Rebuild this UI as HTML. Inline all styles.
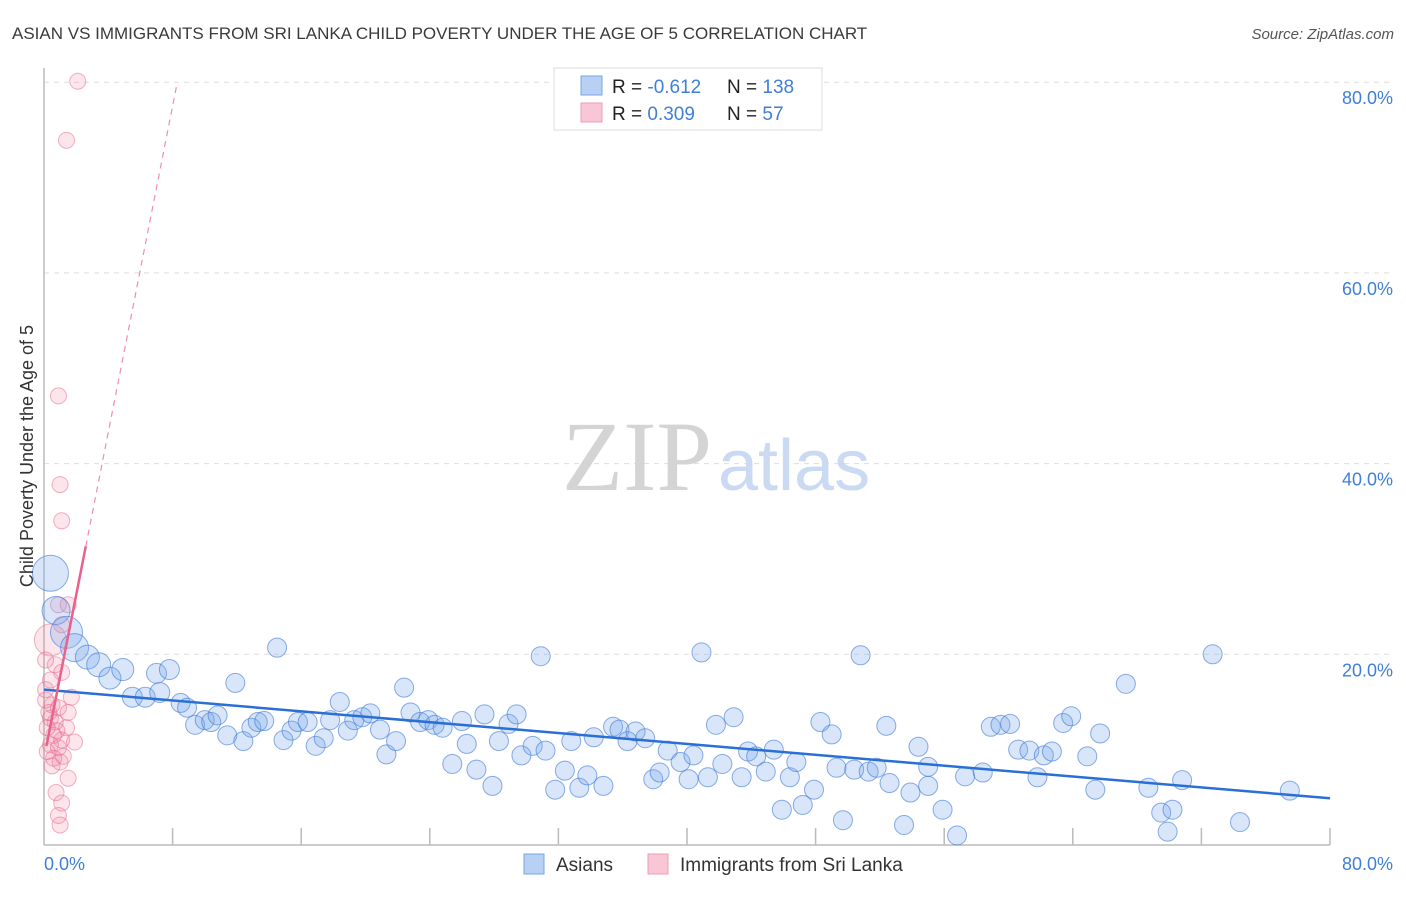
<!DOCTYPE html>
<html><head><meta charset="utf-8"><style>
body{margin:0;background:#fff;font-family:"Liberation Sans",sans-serif;}
</style></head><body>
<svg id="chart" width="1406" height="892" xmlns="http://www.w3.org/2000/svg" font-family="Liberation Sans, sans-serif">
<text x="12" y="39" font-size="17" fill="#3a3a3a">ASIAN VS IMMIGRANTS FROM SRI LANKA CHILD POVERTY UNDER THE AGE OF 5 CORRELATION CHART</text>
<text x="1394" y="39" font-size="15" fill="#555" text-anchor="end" font-style="italic">Source: ZipAtlas.com</text>
<g id="grid"></g>
<g>
<text x="712" y="490" font-size="100" fill="#d4d4d4" text-anchor="end" style="font-family:'Liberation Serif',serif">ZIP</text>
<text x="718" y="490" font-size="72" fill="#c9daf2">atlas</text>
</g>
<line x1="44" y1="845" x2="1330" y2="845" stroke="#bbb" stroke-width="1.5"/>
<line x1="44" y1="68" x2="44" y2="845" stroke="#bbb" stroke-width="1.5"/>
<g id="ticks"></g>
<g id="pink"></g>
<g id="blue"></g>
<g id="lines"></g>
<text transform="translate(33,456) rotate(-90)" font-size="18" fill="#333" text-anchor="middle">Child Poverty Under the Age of 5</text>
<text x="44" y="870" font-size="18" fill="#3f7fd6">0.0%</text>
<text x="1393" y="870" font-size="18" fill="#3f7fd6" text-anchor="end">80.0%</text>
<g>
<rect x="554" y="68" width="268" height="62" fill="#fff" stroke="#ddd"/>
<rect x="581" y="76" width="21" height="19" fill="#b7d0f3" stroke="#7aa6e6"/>
<rect x="581" y="103" width="21" height="19" fill="#f9c6d5" stroke="#ee9bb4"/>
<text x="612" y="93" font-size="19" fill="#222">R = <tspan fill="#3f7fd6">-0.612</tspan><tspan x="727">N = </tspan><tspan fill="#3f7fd6">138</tspan></text>
<text x="612" y="120" font-size="19" fill="#222">R = <tspan fill="#3f7fd6"> 0.309</tspan><tspan x="727">N = </tspan><tspan fill="#3f7fd6">  57</tspan></text>
</g>
<g>
<rect x="524" y="854" width="20" height="20" fill="#b7d0f3" stroke="#7aa6e6"/>
<text x="556" y="871" font-size="19" fill="#333">Asians</text></g>
<g>
<rect x="648" y="854" width="20" height="20" fill="#f9c6d5" stroke="#ee9bb4"/>
<text x="680" y="871" font-size="19" fill="#333">Immigrants from Sri Lanka</text></g>
</svg>
<script>
const yTicks=[20,40,60,80];
const yTickLabels=["20.0%","40.0%","60.0%","80.0%"];
const xTicks=[8,16,24,32,40,48,56,64,72,80];
const blueX=[0.4,0.75,1.4,1.9,2.7,3.4,4.1,4.9,5.5,6.3,7.0,7.2,7.8,8.5,8.9,9.4,10.0,10.4,10.8,11.4,11.9,12.4,12.9,13.3,13.7,14.5,14.9,15.4,15.8,16.4,16.9,17.4,17.8,18.4,18.9,19.3,19.8,20.3,20.9,21.3,21.9,22.4,22.8,23.4,23.9,24.3,24.8,25.4,26.0,26.3,26.9,27.4,27.9,28.3,28.9,29.4,29.7,30.4,30.9,31.2,31.8,32.4,32.8,33.3,33.8,34.2,34.8,35.4,35.8,36.3,36.8,37.4,37.9,38.3,38.8,39.6,40.1,40.4,40.9,41.3,41.8,42.2,42.9,43.4,43.8,44.3,44.9,45.4,45.9,46.4,46.8,47.2,47.9,48.3,49.0,49.3,49.7,50.4,50.8,51.3,51.8,52.4,52.6,53.5,53.9,54.4,55.0,55.0,55.9,56.8,57.3,58.4,58.9,59.5,60.1,60.6,61.3,61.8,62.2,62.7,63.4,63.9,64.9,65.7,65.4,67.3,68.7,69.5,69.9,70.2,70.8,72.7,74.4,77.5];
const blueY=[28.5,24.6,22.3,20.7,19.7,18.9,17.5,18.4,15.5,15.5,18.0,16.0,18.4,14.9,14.4,12.6,13.1,12.9,13.6,11.5,17.0,10.9,12.3,12.9,13.0,20.7,11.0,12.0,12.9,12.9,10.4,11.2,13.1,15.0,12.0,13.1,13.4,13.8,12.1,9.5,10.9,16.5,13.9,12.9,13.1,12.6,12.3,8.5,13.0,10.6,7.9,13.7,6.2,10.9,12.7,13.7,9.4,10.4,19.8,9.9,5.8,7.8,10.9,6.0,7.3,11.3,6.2,12.4,12.1,10.9,11.9,11.2,6.9,7.6,9.9,8.7,6.9,9.4,20.2,7.1,12.6,8.5,13.4,7.1,9.8,9.3,7.7,10.0,3.7,7.1,8.7,4.2,5.8,12.9,11.6,8.1,2.6,7.9,19.9,7.7,8.1,12.5,6.5,2.1,5.5,10.3,8.2,6.2,3.7,1.0,7.2,7.6,12.4,12.6,12.7,10.0,9.9,7.1,9.4,9.8,12.8,13.5,9.3,11.7,5.8,16.9,6.0,3.4,1.4,3.7,6.8,20.0,2.4,5.7];
const blueR=[18,14,16,14,12,12,11,11,10,10,10,10,10];
const pinkX=[2.1,1.4,0.9,1.0,1.1,0.9,1.5,1.1,0.4,0.7,1.1,0.4,1.7,0.5,0.9,1.5,0.4,0.7,0.2,1.4,0.6,1.1,1.9,0.4,0.9,0.2,1.2,0.6,1.0,0.5,1.5,0.75,1.1,0.9,1.0,0.1,0.1,0.1,0.3,0.8];
const pinkY=[80.1,73.9,47.1,37.8,34.0,25.2,25.2,23.1,21.5,18.9,18.1,17.3,15.5,14.7,14.4,13.9,13.3,12.9,12.3,12.3,11.5,11.0,10.8,10.5,10.2,9.8,9.3,9.1,8.7,8.3,7.0,5.5,4.4,3.1,2.1,16.3,15.2,19.4,13.9,12.0];
const blueTrend=[16.3,4.9];
const pinkTrend=[9.1,8.55];
const X=v=>44+v*16.075, Y=v=>845-v*9.535;
const NS="http://www.w3.org/2000/svg";
function mk(t,a,p){const e=document.createElementNS(NS,t);for(const k in a)e.setAttribute(k,a[k]);document.getElementById(p).appendChild(e);return e;}
yTicks.forEach((v,i)=>{
 const l=mk('line',{x1:44,x2:1394,y1:Y(v),y2:Y(v),stroke:'#ddd','stroke-dasharray':'5,5'},'grid');
 
 
 const t=mk('text',{x:1393,y:Y(v)+22,'font-size':18,fill:'#3f7fd6','text-anchor':'end'},'grid');
 t.textContent=yTickLabels[i];
 
 
});
xTicks.forEach(v=>{
 const l=mk('line',{x1:X(v),x2:X(v),y1:828,y2:845,stroke:'#bbb','stroke-width':1.5},'ticks');
 
 
});
pinkX.forEach((x,i)=>{
 const c=mk('circle',{cx:X(x),cy:Y(pinkY[i]),r:i==8?16:8,fill:'rgba(240,130,160,0.2)',stroke:'rgba(230,100,140,0.5)'},'pink');
 
 
});
blueX.forEach((x,i)=>{
 const c=mk('circle',{cx:X(x),cy:Y(blueY[i]),r:blueR[i]||9.5,fill:'rgba(120,165,235,0.28)',stroke:'rgba(60,120,215,0.6)'},'blue');
 
 
});
const bl=mk('line',{x1:X(0),y1:Y(blueTrend[0]),x2:X(80),y2:Y(blueTrend[1]),stroke:'#2a6fd6','stroke-width':2.5},'lines');


const pe=(80-pinkTrend[0])/pinkTrend[1];
const ps=mk('line',{x1:X(0.15),y1:Y(pinkTrend[0]+0.15*pinkTrend[1]),x2:X(2.6),y2:Y(pinkTrend[0]+2.6*pinkTrend[1]),stroke:'#e8628c','stroke-width':2.5},'lines');


const pd=mk('line',{x1:X(2.6),y1:Y(pinkTrend[0]+2.6*pinkTrend[1]),x2:X(pe),y2:Y(80),stroke:'#eb8fac','stroke-width':1.2,'stroke-dasharray':'6,5'},'lines');


</script>
</body></html>
